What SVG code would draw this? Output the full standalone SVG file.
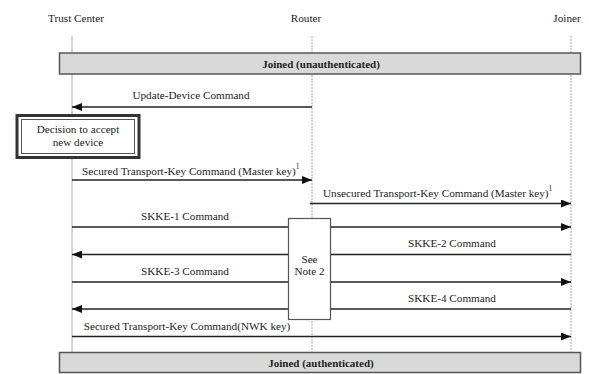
<svg xmlns="http://www.w3.org/2000/svg" width="589" height="374" viewBox="0 0 589 374">
<style>
  text { font-family: "Liberation Serif", "Times New Roman", serif; font-size: 11.2px; fill: #222; }
  .b { font-weight: bold; font-size: 11px; }
  .m { text-anchor: middle; }
  .bar { fill: #d9d9d9; stroke: #555; stroke-width: 1.5; }
  .life { stroke: #aaa; stroke-width: 1; fill: none; }
  .dash { stroke-dasharray: 2 1; }
  .msg { stroke: #222; stroke-width: 1.6; fill: none; }
</style>
<defs>
  <marker id="ah" viewBox="0 0 10 8" refX="10" refY="4" markerWidth="10" markerHeight="8" markerUnits="userSpaceOnUse" orient="auto">
    <path d="M0,0 L10,4 L0,8 Z" fill="#111"/>
  </marker>
</defs>
<rect width="589" height="374" fill="#fff"/>

<g id="lifelines">
  <text class="m" x="76" y="22">Trust Center</text>
  <text class="m" x="306" y="22">Router</text>
  <text class="m" x="567" y="22">Joiner</text>
  <line class="life" x1="72" y1="36" x2="72" y2="353"/>
  <line class="life dash" x1="312" y1="36" x2="312" y2="353"/>
  <line class="life dash" x1="571" y1="36" x2="571" y2="353"/>
</g>

<g id="bar-top">
  <rect class="bar" x="59.5" y="53" width="521" height="21"/>
  <text class="b m" x="321" y="67.5">Joined (unauthenticated)</text>
</g>

<g id="decision">
  <rect x="17" y="115.5" width="122" height="42" fill="#fff" stroke="#333" stroke-width="3"/>
  <rect x="21.5" y="119.5" width="113" height="34" fill="none" stroke="#555" stroke-width="1"/>
  <text class="m" x="78" y="133">Decision to accept</text>
  <text class="m" x="78" y="146">new device</text>
</g>

<g id="connectors">
  <line class="msg" x1="312" y1="107" x2="72" y2="107" marker-end="url(#ah)"/>
  <line class="msg" x1="72" y1="180" x2="312" y2="180" marker-end="url(#ah)"/>
  <line class="msg" x1="310" y1="203.5" x2="571" y2="203.5" marker-end="url(#ah)"/>
  <line class="msg" x1="72" y1="227" x2="571" y2="227" marker-end="url(#ah)"/>
  <line class="msg" x1="571" y1="254.5" x2="72" y2="254.5" marker-end="url(#ah)"/>
  <line class="msg" x1="72" y1="282" x2="571" y2="282" marker-end="url(#ah)"/>
  <line class="msg" x1="571" y1="309" x2="72" y2="309" marker-end="url(#ah)"/>
  <line class="msg" x1="72" y1="336.5" x2="571" y2="336.5" marker-end="url(#ah)"/>
</g>

<g id="labels">
  <text class="m" x="191" y="99">Update-Device Command</text>
  <text x="82" y="175">Secured Transport-Key Command (Master key)<tspan font-size="7.5" dy="-6">1</tspan></text>
  <text x="323" y="197">Unsecured Transport-Key Command (Master key)<tspan font-size="7.5" dy="-6">1</tspan></text>
  <text class="m" x="185" y="220">SKKE-1 Command</text>
  <text class="m" x="452" y="247">SKKE-2 Command</text>
  <text class="m" x="185" y="275">SKKE-3 Command</text>
  <text class="m" x="452" y="302">SKKE-4 Command</text>
  <text class="m" x="187" y="330">Secured Transport-Key Command(NWK key)</text>
</g>

<g id="note">
  <rect x="288.5" y="218.5" width="42" height="101" fill="#fff" stroke="#555" stroke-width="1.2"/>
  <text class="m" x="309.5" y="263">See</text>
  <text class="m" x="309.5" y="275">Note 2</text>
</g>

<g id="bar-bottom">
  <rect class="bar" x="59.5" y="352.5" width="521" height="20"/>
  <text class="b m" x="321" y="366.5">Joined (authenticated)</text>
</g>
</svg>
